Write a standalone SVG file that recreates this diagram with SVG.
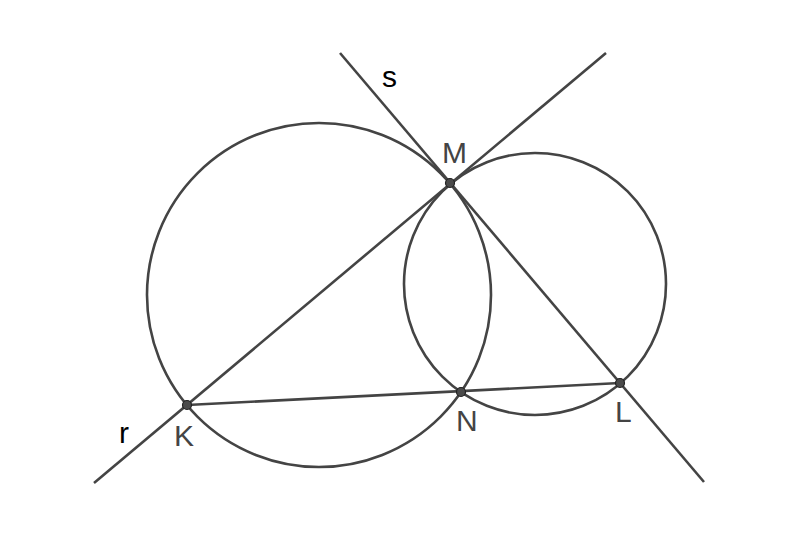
<svg xmlns="http://www.w3.org/2000/svg" width="791" height="540" viewBox="0 0 791 540">
<style>
.ln{stroke:#444;stroke-width:2.6;fill:none;stroke-linecap:butt}
.pt{fill:#4a4a4a;stroke:#222;stroke-width:1.2}
.lb{font-family:"Liberation Sans",Arial,sans-serif;font-size:30px;fill:#444}
.nm{font-family:"Liberation Sans",Arial,sans-serif;font-size:30px;fill:#000}
</style>
<rect width="791" height="540" fill="#fff"/>
<g id="connectors">
<circle class="ln" cx="319" cy="295" r="172"/>
<circle class="ln" cx="535" cy="284" r="131"/>
<line class="ln" x1="94" y1="483" x2="606" y2="53"/>
<line class="ln" x1="340" y1="53" x2="704" y2="482"/>
<line class="ln" x1="187" y1="405" x2="620" y2="383"/>
<text class="nm" x="382" y="87">s</text>
<text class="nm" x="119" y="443">r</text>
</g>
<g id="M"><circle class="pt" cx="450" cy="183" r="4.5"/><text class="lb" x="442" y="163">M</text></g>
<g id="K"><circle class="pt" cx="187" cy="405" r="4.5"/><text class="lb" x="174" y="446">K</text></g>
<g id="N"><circle class="pt" cx="461" cy="392" r="4.5"/><text class="lb" x="456" y="431">N</text></g>
<g id="L"><circle class="pt" cx="620" cy="383" r="4.5"/><text class="lb" x="615" y="422">L</text></g>
</svg>
